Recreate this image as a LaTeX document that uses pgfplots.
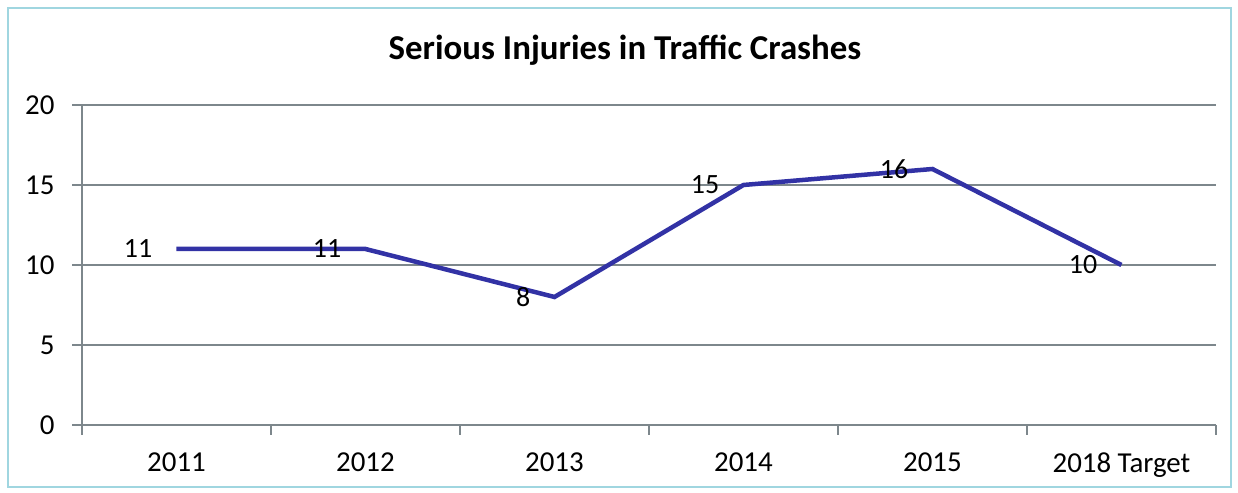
\documentclass[border=0pt]{standalone}
\usepackage{pgfplots}
\pgfplotsset{compat=1.18}
\usepackage{fontspec}
\setmainfont{Carlito}
\definecolor{lineblue}{RGB}{50,50,165}
\definecolor{gridgray}{RGB}{125,135,140}
\definecolor{framecol}{RGB}{160,214,224}
\begin{document}
\begin{tikzpicture}[x=1bp,y=1bp]
\path (0,0) rectangle (1238,493);
\draw[framecol, line width=1.5bp] (8,6) rectangle (1231,485);
\node[font=\fontsize{35}{38}\selectfont\bfseries] at (625,443) {Serious Injuries in Traffic Crashes};
\begin{axis}[
    at={(82bp,68bp)}, anchor=south west,
    scale only axis, width=1134bp, height=320bp,
    xmin=-0.5, xmax=5.5, ymin=0, ymax=20,
    ytick={0,5,...,20},
    xtick={-0.5,0.5,...,5.5},
    x tick label as interval,
    xticklabels={2011,2012,2013,2014,2015,2018 Target},
    axis x line*=bottom, axis y line*=left,
    axis line style={-, draw=gridgray, line width=1.2bp},
    tick align=outside,
    major tick length=10bp,
    tick style={draw=gridgray, line width=1.2bp},
    ymajorgrids,
    grid style={draw=gridgray, line width=1.2bp},
    ticklabel style={font=\fontsize{29}{32}\selectfont},
    yticklabel style={xshift=-14bp},
    xticklabel style={yshift=-14bp},
    /pgf/number format/assume math mode=true,
    nodes near coords,
    every node near coord/.append style={anchor=east, inner sep=0pt, xshift=-22bp, yshift=0pt, font=\fontsize{28}{30}\selectfont, text=black},
]
\addplot[color=lineblue, line width=4.5bp, mark=none] coordinates {
(0,11) (1,11) (2,8) (3,15) (4,16) (5,10)
};
\end{axis}
\end{tikzpicture}
\end{document}
